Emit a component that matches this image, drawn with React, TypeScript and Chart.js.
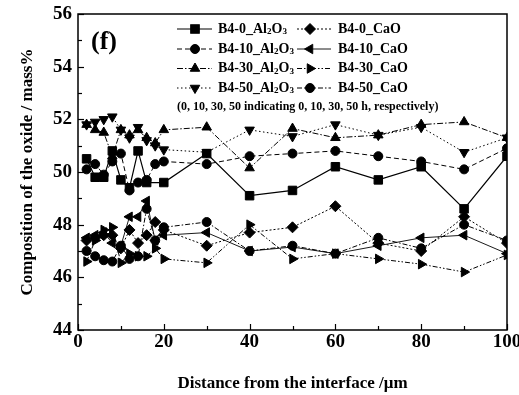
import React, { useEffect, useRef } from 'react';
import { Chart, registerables } from 'chart.js';
import { drawPoint } from 'chart.js/helpers';

Chart.register(...registerables);

// ---- data ----
const distance = [2, 4, 6, 8, 10, 12, 14, 16, 18, 20, 30, 40, 50, 60, 70, 80, 90, 100];

const b40Al2O3 = [50.5, 49.8, 49.8, 50.8, 49.7, 49.4, 50.8, 49.6, null, 49.6, 50.7, 49.1, 49.3, 50.2, 49.7, 50.2, 48.6, 50.6];
const b40CaO = [47.4, 47.5, 47.6, 47.6, 47.1, 47.8, 47.3, 47.6, 48.1, 47.8, 47.2, 47.7, 47.9, 48.7, 47.3, 47.0, 48.3, 47.3];
const b410Al2O3 = [50.1, 50.3, 49.9, 50.4, 50.7, 49.3, 49.6, 49.7, 50.3, 50.4, 50.3, 50.6, 50.7, 50.8, 50.6, 50.4, 50.1, 50.9];
const b410CaO = [47.5, 47.6, 47.7, 47.3, 47.2, 48.3, 48.3, 48.9, 47.4, 47.6, 47.7, 47.0, 47.15, 46.9, 47.2, 47.5, 47.6, 46.9];
const b430Al2O3 = [51.8, 51.6, 51.5, 50.6, 51.6, 51.4, 51.6, 51.3, 51.1, 51.6, 51.7, 50.15, 51.65, 51.3, 51.4, 51.8, 51.9, 51.3];
const b430CaO = [46.6, 47.4, 47.8, 47.9, 46.55, 46.9, 46.8, 46.8, 47.1, 46.7, 46.55, 48.0, 46.7, 46.9, 46.7, 46.5, 46.2, 46.85];
const b450Al2O3 = [51.8, 51.9, 52.0, 52.1, 51.6, 51.3, 51.7, 51.2, 51.0, 50.85, 50.75, 51.6, 51.35, 51.8, 51.4, 51.7, 50.75, 51.3];
const b450CaO = [47.0, 46.8, 46.65, 46.6, 47.2, 46.7, 46.8, 48.6, 47.4, 47.9, 48.1, 47.0, 47.2, 46.9, 47.5, 47.1, 48.0, 47.4];

const seriesNames = ['B4-0_Al2O3', 'B4-0_CaO', 'B4-10_Al2O3', 'B4-10_CaO', 'B4-30_Al2O3', 'B4-30_CaO', 'B4-50_Al2O3', 'B4-50_CaO'];
const seriesValues = [b40Al2O3, b40CaO, b410Al2O3, b410CaO, b430Al2O3, b430CaO, b450Al2O3, b450CaO];

const xTitle = 'Distance from the interface /\u03BCm';
const yTitle = 'Composition of the oxide / mass%';
const panelLabel = '(f)';
const noteText = '(0, 10, 30, 50 indicating 0, 10, 30, 50 h, respectively)';

// ---- styles ----
const FONT = "'Liberation Serif', 'Times New Roman', serif";
const styles = [
  { dash: [], style: 'rect', rot: 0, r: 6, w: 1.2 },
  { dash: [2, 2], style: 'rectRot', rot: 0, r: 5.5, w: 1 },
  { dash: [5, 3], style: 'circle', rot: 0, r: 4.5, w: 1 },
  { dash: [], style: 'triangle', rot: 270, r: 5.5, w: 0.9 },
  { dash: [6, 2, 1.5, 2], style: 'triangle', rot: 0, r: 5.5, w: 1 },
  { dash: [5, 2, 1.5, 2, 1.5, 2], style: 'triangle', rot: 90, r: 5.5, w: 1 },
  { dash: [1.5, 2.5], style: 'triangle', rot: 180, r: 5.5, w: 1 },
  { dash: [5, 2, 1.5, 2], style: 'circle', rot: 0, r: 4.5, w: 1 },
];

function drawChemLabel(ctx: CanvasRenderingContext2D, text: string, x: number, y: number, size: number) {
  const idx = text.indexOf('_');
  const prefix = text.slice(0, idx + 1);
  const formula = text.slice(idx + 1);
  ctx.textBaseline = 'middle';
  ctx.textAlign = 'left';
  ctx.font = `bold ${size}px ${FONT}`;
  ctx.fillText(prefix, x, y);
  x += ctx.measureText(prefix).width;
  for (const ch of formula) {
    if (/\d/.test(ch)) {
      ctx.font = `bold ${size * 0.65}px ${FONT}`;
      ctx.fillText(ch, x, y + size * 0.22);
    } else {
      ctx.font = `bold ${size}px ${FONT}`;
      ctx.fillText(ch, x, y);
    }
    x += ctx.measureText(ch).width;
  }
}

const decorPlugin = {
  id: 'decor',
  afterDraw(chart: any) {
    const ctx: CanvasRenderingContext2D = chart.ctx;
    const { left, right, top, bottom } = chart.chartArea;
    const xs = chart.scales.x;
    const ys = chart.scales.y;
    ctx.save();
    ctx.strokeStyle = '#000';
    ctx.fillStyle = '#000';
    // frame
    ctx.lineWidth = 1.5;
    ctx.setLineDash([]);
    ctx.strokeRect(left, top, right - left, bottom - top);
    // inward ticks
    ctx.lineWidth = 1.2;
    for (let v = 0; v <= 100; v += 10) {
      const px = Math.round(xs.getPixelForValue(v)) + 0.5;
      const len = v % 20 === 0 ? 6 : 4;
      ctx.beginPath();
      ctx.moveTo(px, bottom);
      ctx.lineTo(px, bottom - len);
      ctx.stroke();
    }
    for (let v = 44; v <= 56; v += 1) {
      const py = Math.round(ys.getPixelForValue(v)) + 0.5;
      const len = v % 2 === 0 ? 6 : 4;
      ctx.beginPath();
      ctx.moveTo(left, py);
      ctx.lineTo(left + len, py);
      ctx.stroke();
    }
    // panel label
    ctx.font = `bold 26px ${FONT}`;
    ctx.textAlign = 'left';
    ctx.textBaseline = 'middle';
    ctx.fillText(panelLabel, 91, 42);
    // legend
    const rowY = [29, 49, 68.5, 88];
    const cols = [
      { l0: 177, l1: 212, m: 195, t: 218 },
      { l0: 297, l1: 331, m: 310, t: 338 },
    ];
    chart.data.datasets.forEach((ds: any, i: number) => {
      const st = styles[i];
      const c = cols[i % 2];
      const y = rowY[Math.floor(i / 2)];
      ctx.lineWidth = st.w;
      ctx.setLineDash(st.dash);
      ctx.beginPath();
      ctx.moveTo(c.l0, y);
      ctx.lineTo(c.l1, y);
      ctx.stroke();
      ctx.setLineDash([]);
      drawPoint(ctx, { pointStyle: st.style, rotation: st.rot, radius: st.r, borderWidth: 1 } as any, c.m, y);
      ctx.fillStyle = '#000';
      drawChemLabel(ctx, ds.label, c.t, y, 14);
    });
    ctx.font = `bold 12px ${FONT}`;
    ctx.textAlign = 'left';
    ctx.textBaseline = 'middle';
    ctx.fillText(noteText, 177, 107);
    ctx.restore();
  },
};

export default function App() {
  const ref = useRef<HTMLCanvasElement>(null);
  useEffect(() => {
    if (!ref.current) return;
    const tickFont = { family: FONT, size: 19, weight: 'bold' as const };
    const titleFont = { family: FONT, size: 17, weight: 'bold' as const };
    const chart = new Chart(ref.current, {
      type: 'line',
      data: {
        datasets: seriesNames.map((name, i) => ({
          label: name,
          data: distance.map((d, j) => ({ x: d, y: seriesValues[i][j] })),
          borderColor: '#000',
          backgroundColor: '#000',
          borderWidth: styles[i].w,
          borderDash: styles[i].dash,
          pointStyle: styles[i].style as any,
          pointRotation: styles[i].rot,
          pointRadius: styles[i].r,
          pointBorderWidth: 1,
          pointBackgroundColor: '#000',
          pointBorderColor: '#000',
          tension: 0,
          spanGaps: true,
          fill: false,
        })),
      },
      options: {
        responsive: false,
        animation: false,
        layout: { padding: { top: 14, right: 12, left: 0, bottom: 0 } },
        plugins: { legend: { display: false }, tooltip: { enabled: false } },
        scales: {
          x: {
            type: 'linear',
            min: 0,
            max: 100,
            ticks: { stepSize: 20, font: tickFont, color: '#000', padding: 1, maxRotation: 0 },
            grid: { display: false, drawTicks: false },
            border: { display: false },
            title: { display: true, text: xTitle, font: titleFont, color: '#000', padding: { top: 0, bottom: 1 } },
            afterFit: (s: any) => { s.height = 65; s.paddingLeft = 0; s.paddingRight = 0; },
          },
          y: {
            min: 44,
            max: 56,
            ticks: { stepSize: 2, font: tickFont, color: '#000', padding: 6 },
            grid: { display: false, drawTicks: false },
            border: { display: false },
            title: { display: true, text: yTitle, font: titleFont, color: '#000', padding: { top: 17, bottom: 0 } },
            afterFit: (s: any) => { s.width = 78; s.paddingTop = 0; s.paddingBottom = 0; },
          },
        },
      },
      plugins: [decorPlugin],
    });
    return () => chart.destroy();
  }, []);
  return (
    <div style={{ position: 'absolute', left: 0, top: 0, width: 519, height: 395, background: '#fff' }}>
      <canvas ref={ref} width={519} height={395} />
    </div>
  );
}
